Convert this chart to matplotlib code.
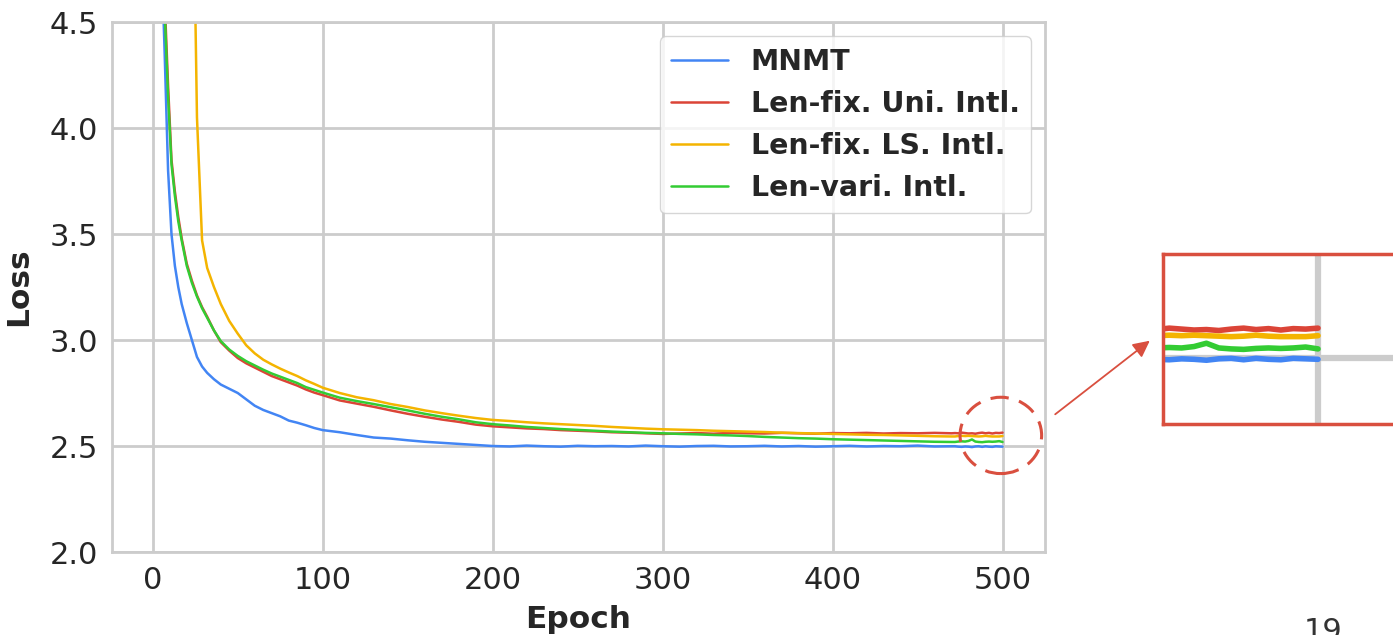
import matplotlib
matplotlib.use('Agg')
import matplotlib.pyplot as plt
import seaborn as sns
from matplotlib.patches import Ellipse

epochs = ([1, 3, 5, 7, 9, 11, 13, 15, 17, 20, 23, 26, 29, 32, 36, 40, 45, 50,
           55, 60, 65, 70, 75, 80, 85, 90, 95, 100]
          + list(range(110, 480, 10))
          + list(range(472, 502, 2)))

mnmt = [7.0, 5.6, 4.85, 4.35, 3.8, 3.5, 3.35, 3.25, 3.17, 3.08, 3.0, 2.92, 2.875, 2.845,
        2.815, 2.79, 2.77, 2.75, 2.72, 2.69, 2.67, 2.655, 2.64, 2.62, 2.61, 2.598, 2.585,
        2.575,
        2.565, 2.552, 2.54, 2.535, 2.527, 2.52, 2.515, 2.51, 2.505, 2.50, 2.498, 2.502,
        2.499, 2.497, 2.501, 2.499, 2.500, 2.498, 2.502, 2.499, 2.497, 2.500, 2.501,
        2.498, 2.499, 2.501, 2.498, 2.500, 2.497, 2.499, 2.501, 2.498, 2.500, 2.499,
        2.502, 2.498, 2.499,
        2.499, 2.497, 2.496, 2.498, 2.497, 2.495, 2.498, 2.499, 2.496, 2.499, 2.497,
        2.496, 2.499, 2.498, 2.497]

uni = [7.5, 6.0, 5.1, 4.6, 4.2, 3.85, 3.7, 3.58, 3.48, 3.36, 3.28, 3.21, 3.155, 3.11,
       3.045, 2.99, 2.95, 2.915, 2.89, 2.87, 2.85, 2.83, 2.815, 2.80, 2.785, 2.767, 2.752,
       2.74,
       2.715, 2.70, 2.685, 2.668, 2.652, 2.638, 2.625, 2.614, 2.601, 2.593, 2.588, 2.583,
       2.580, 2.575, 2.572, 2.569, 2.565, 2.563, 2.560, 2.557, 2.559, 2.561, 2.558,
       2.562, 2.560, 2.559, 2.562, 2.560, 2.558, 2.561, 2.560, 2.562, 2.559, 2.561,
       2.560, 2.562, 2.560,
       2.561, 2.560, 2.563, 2.561, 2.559, 2.560, 2.558, 2.561, 2.563, 2.560, 2.562,
       2.559, 2.562, 2.561, 2.563]

ls = [9.5, 9.0, 8.5, 8.0, 7.6, 7.2, 6.9, 6.6, 6.3, 6.0, 5.6, 4.05, 3.47, 3.34, 3.25,
      3.17, 3.09, 3.03, 2.975, 2.937, 2.907, 2.885, 2.865, 2.847, 2.83, 2.81, 2.793,
      2.775,
      2.75, 2.73, 2.716, 2.698, 2.684, 2.668, 2.655, 2.643, 2.632, 2.623, 2.618, 2.612,
      2.607, 2.603, 2.599, 2.595, 2.590, 2.586, 2.582, 2.579, 2.577, 2.575, 2.572,
      2.570, 2.568, 2.566, 2.563, 2.561, 2.559, 2.557, 2.555, 2.553, 2.552, 2.550,
      2.548, 2.546, 2.545,
      2.545, 2.547, 2.548, 2.547, 2.548, 2.547, 2.546, 2.545, 2.546, 2.548, 2.546,
      2.545, 2.545, 2.545, 2.547]

vari = [7.4, 5.9, 5.05, 4.55, 4.15, 3.83, 3.68, 3.56, 3.47, 3.35, 3.27, 3.205, 3.15,
        3.105, 3.045, 2.995, 2.955, 2.925, 2.90, 2.88, 2.86, 2.842, 2.827, 2.812, 2.797,
        2.778, 2.765, 2.752,
        2.728, 2.712, 2.698, 2.683, 2.668, 2.652, 2.638, 2.626, 2.612, 2.603, 2.597,
        2.590, 2.585, 2.580, 2.576, 2.572, 2.568, 2.565, 2.562, 2.560, 2.557, 2.555,
        2.552, 2.550, 2.547, 2.543, 2.540, 2.537, 2.535, 2.532, 2.530, 2.528, 2.526,
        2.524, 2.522, 2.520, 2.519,
        2.519, 2.521, 2.522, 2.521, 2.524, 2.531, 2.521, 2.519, 2.518, 2.520, 2.521,
        2.520, 2.521, 2.523, 2.519]

names = ['MNMT', 'Len-fix. Uni. Intl.', 'Len-fix. LS. Intl.', 'Len-vari. Intl.']
colors = ['#4285F4', '#DB4437', '#F4B400', '#33CC33']
series = [mnmt, uni, ls, vari]

sns.set_style('whitegrid')
plt.rcParams['font.family'] = ['DejaVu Sans']
accent = '#D94F3F'
text_color = '#262626'

fig = plt.figure(figsize=(13.93, 6.35), dpi=100)
ax = fig.add_axes([0.0804, 0.1307, 0.6698, 0.8346])
for vals, name, c in zip(series, names, colors):
    ax.plot(epochs, vals, color=c, lw=1.8, label=name)

ax.set_ylim(2.0, 4.5)
ax.set_xlim(-24, 525)
ax.set_xticks([0, 100, 200, 300, 400, 500])
ax.set_yticks([2.0, 2.5, 3.0, 3.5, 4.0, 4.5])
ax.set_yticklabels(['2.0', '2.5', '3.0', '3.5', '4.0', '4.5'])
ax.tick_params(labelsize=22, colors=text_color, length=0, pad=10)
ax.grid(color='#cccccc', lw=2)
for s in ax.spines.values():
    s.set_color('#cccccc')
    s.set_linewidth(2)
ax.set_xlabel('Epoch', fontsize=22.5, fontweight='bold', color=text_color, labelpad=7)
ax.set_ylabel('Loss', fontsize=22.5, fontweight='bold', color=text_color, labelpad=12)

leg = ax.legend(loc='upper right', prop={'size': 20.4, 'weight': 'bold'},
                framealpha=0.8, edgecolor='#cccccc', fancybox=True)
for t in leg.get_texts():
    t.set_color(text_color)

# dashed circle around the end of the curves
ax.add_patch(Ellipse((499, 2.55), 48, 0.36, fill=False, ec=accent, lw=2.2,
                     ls=(0, (6, 3.5)), clip_on=False, zorder=5))

# magnified view of the circled region
ins = fig.add_axes([0.8349, 0.3323, 0.2137, 0.2677])
for vals, c in zip(series, colors):
    ins.plot(epochs, vals, color=c, lw=4)
ins.set_xlim(475, 523)
ins.set_ylim(2.36, 2.72)
ins.set_xticks([500])
ins.set_yticks([2.5])
ins.tick_params(labelbottom=False, labelleft=False, length=0)
ins.grid(color='#cccccc', lw=4.5)
for s in ins.spines.values():
    s.set_color(accent)
    s.set_linewidth(2.5)

fig.add_artist(matplotlib.patches.FancyArrowPatch(
    (1053, 219), (1152, 296), transform=None, arrowstyle='-|>',
    mutation_scale=25, color=accent, lw=1.3))

fig.text(1323 / 1393, -0.008, '19', ha='center', va='baseline', fontsize=22,
         color='#333333')

plt.savefig('out.png', dpi=100)
plt.close()
